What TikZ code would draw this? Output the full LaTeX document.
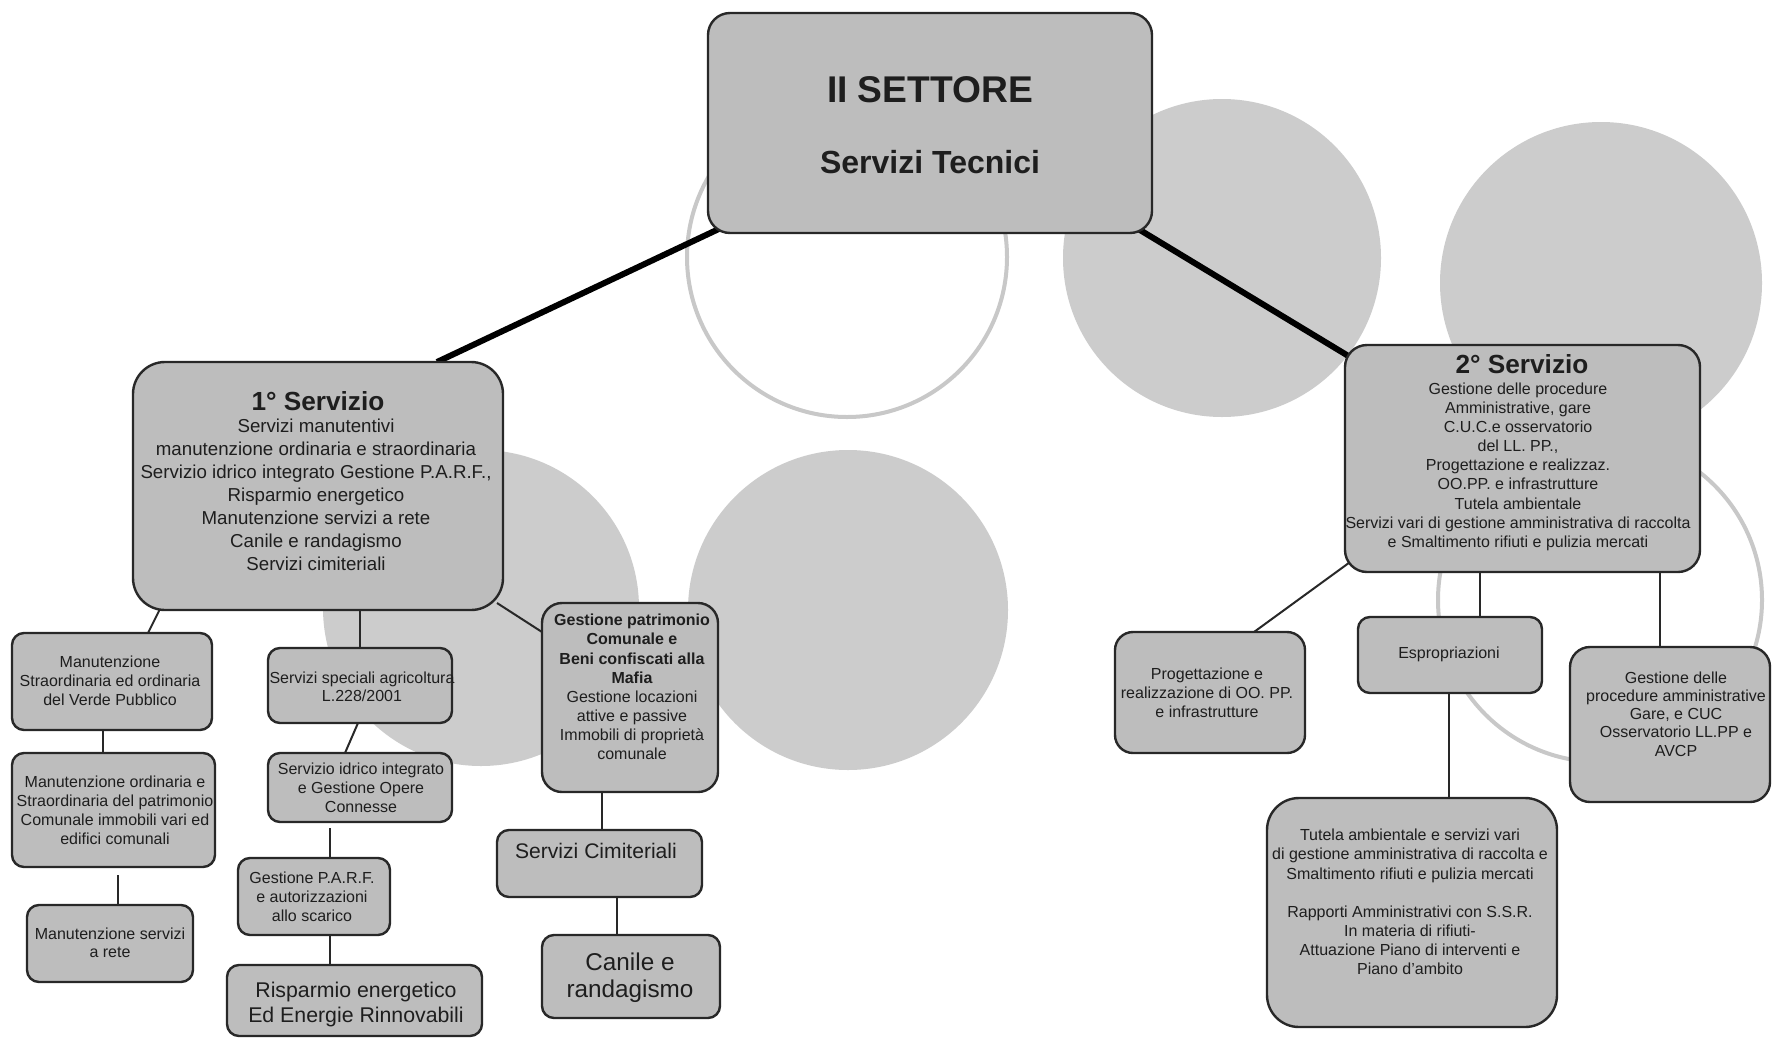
\documentclass[tikz,border=0pt]{standalone}
\usepackage{fontspec}
\setmainfont{Liberation Sans}
\usetikzlibrary{fit,calc}
\definecolor{boxfill}{RGB}{189,189,189}
\definecolor{circfill}{RGB}{204,204,204}
\definecolor{circline}{RGB}{200,200,200}
\definecolor{ink}{RGB}{30,30,30}
\definecolor{edge}{RGB}{40,40,40}
\newcommand\fsz[2]{\fontsize{#1}{#2}\selectfont}
\pgfdeclarelayer{circ}
\pgfdeclarelayer{lines}
\pgfsetlayers{circ,lines,main}
\begin{document}
\begin{tikzpicture}[x=0.5pt,y=-0.5pt,
  box/.style={draw=edge, line width=1.2pt, fill=boxfill, inner sep=0pt, outer sep=0pt, rounded corners=#1},
  box/.default=6pt,
  txt/.style={text=ink, align=center, inner sep=0pt},
  link/.style={draw=edge, line width=1pt},
  trunk/.style={draw=black, line width=3pt},
  disc/.style={fill=circfill, draw=none},
  ring/.style={draw=circline, line width=2pt}]
\useasboundingbox (0,0) rectangle (1772,1039);
\begin{pgfonlayer}{circ}
\fill[white] (0,0) rectangle (1772,1039);
\fill[disc] (1222,258) circle[radius=159];
\fill[disc] (1601,283) circle[radius=161];
\fill[disc] (481,608) circle[radius=158];
\fill[disc] (848,610) circle[radius=160];
\draw[ring] (847,257) circle[radius=160];
\draw[ring] (1600,600) circle[radius=162];
\end{pgfonlayer}

% boxes
\node[box=11pt, fit={(708,13) (1152,233)}] (top) {};
\node[box=16pt, fit={(133,362) (503,610)}] (s1) {};
\node[box=6pt, fit={(12,633) (212,730)}] (v1) {};
\node[box=6pt, fit={(12,753) (215,867)}] (v2) {};
\node[box=6pt, fit={(27,905) (193,982)}] (v3) {};
\node[box=6pt, fit={(268,648) (452,723)}] (a1) {};
\node[box=6pt, fit={(268,753) (452,822)}] (a2) {};
\node[box=6pt, fit={(238,858) (390,935)}] (a3) {};
\node[box=6pt, fit={(227,965) (482,1036)}] (a4) {};
\node[box=10pt, fit={(542,603) (718,792)}] (g1) {};
\node[box=6pt, fit={(497,830) (702,897)}] (c1) {};
\node[box=6pt, fit={(542,935) (720,1018)}] (c2) {};
\node[box=11pt, fit={(1345,345) (1700,572)}] (s2) {};
\node[box=9pt, fit={(1115,632) (1305,753)}] (p1) {};
\node[box=6pt, fit={(1358,617) (1542,693)}] (e1) {};
\node[box=10pt, fit={(1570,647) (1770,802)}] (g2) {};
\node[box=16pt, fit={(1267,798) (1557,1027)}] (t1) {};

% connectors
\begin{pgfonlayer}{lines}
\draw[trunk] ($(top.south west)+(15,-6)$) -- ($(s1.north west)+(304,0)$);
\draw[trunk] ($(top.south east)+(-17,-6)$) -- ($(s2.north west)+(10,15)$);
\draw[link] ($(s1.south west)+(30,-7)$) -- ($(v1.north west)+(136,0)$);
\draw[link] (a1.north) -- (a1.north |- s1.south);
\draw[link] ($(s1.south east)+(-6,-7)$) -- ($(g1.north west)+(0,29)$);
\draw[link] ($(v1.south)+(-9,0)$) -- ($(v2.north)+(-10.5,0)$);
\draw[link] ($(v2.south)+(4.5,8)$) -- ($(v3.north)+(8,0)$);
\draw[link] ($(a1.south)+(-2,0)$) -- ($(a2.north)+(-15,0)$);
\draw[link] ($(a2.south)+(-30,6)$) -- ($(a3.north)+(16,0)$);
\draw[link] ($(a3.south)+(16,0)$) -- ($(a4.north)+(-24.5,0)$);
\draw[link] ($(g1.south)+(-28,0)$) -- ($(c1.north)+(2.5,0)$);
\draw[link] ($(c1.south)+(17.5,0)$) -- ($(c2.north)+(-14,0)$);
\draw[link] ($(s2.south west)+(12,-15)$) -- ($(p1.north west)+(139,0)$);
\draw[link] ($(e1.north)+(30,0)$) -- ($(e1.north |- s2.south)+(30,0)$);
\draw[link] ($(g2.north)+(-10,0)$) -- ($(g2.north |- s2.south)+(-10,0)$);
\draw[link] ($(e1.south)+(-1,0)$) -- ($(t1.north)+(37,0)$);
\end{pgfonlayer}

% texts
\node[txt, font=\bfseries\fsz{18.6pt}{22pt}, anchor=base] (topa) at (930,102) {II SETTORE};
\node[txt, font=\bfseries\fsz{16pt}{19pt}, anchor=base] (topb) at (930,173) {Servizi Tecnici};
\node[txt, font=\bfseries\fsz{13.1pt}{15pt}, anchor=base] (s1h) at (318,410) {1° Servizio};
\node[txt, font=\fsz{9.35pt}{11.5pt}] (s1b) at (316,495) {Servizi manutentivi\\ manutenzione ordinaria e straordinaria\\ Servizio idrico integrato Gestione P.A.R.F.,\\ Risparmio energetico\\ Manutenzione servizi a rete\\ Canile e randagismo\\ Servizi cimiteriali};
\node[txt, font=\fsz{8pt}{9.5pt}] (v1t) at (110,681) {Manutenzione\\ Straordinaria ed ordinaria\\ del Verde Pubblico};
\node[txt, font=\fsz{8pt}{9.5pt}] (v2t) at (115,810) {Manutenzione ordinaria e\\ Straordinaria del patrimonio\\ Comunale immobili vari ed\\ edifici comunali};
\node[txt, font=\fsz{8pt}{9.2pt}] (v3t) at (110,942.5) {Manutenzione servizi\\ a rete};
\node[txt, font=\fsz{8pt}{9.2pt}] (a1t) at (362,686.5) {Servizi speciali agricoltura\\ L.228/2001};
\node[txt, font=\fsz{8pt}{9.6pt}] (a2t) at (361,787.5) {Servizio idrico integrato\\ e Gestione Opere\\ Connesse};
\node[txt, font=\fsz{8pt}{9.4pt}] (a3t) at (312,897) {Gestione P.A.R.F.\\ e autorizzazioni\\ allo scarico};
\node[txt, font=\fsz{10.65pt}{12.5pt}] (a4t) at (356,1004) {Risparmio energetico\\ Ed Energie Rinnovabili};
\node[txt, font=\fsz{8pt}{9.55pt}] (g1t) at (632,687) {\textbf{Gestione patrimonio}\\ \textbf{Comunale e}\\ \textbf{Beni confiscati alla}\\ \textbf{Mafia}\\ Gestione locazioni\\ attive e passive\\ Immobili di proprietà\\ comunale};
\node[txt, font=\fsz{10.55pt}{12.5pt}, anchor=base] (c1t) at (596,858) {Servizi Cimiteriali};
\node[txt, font=\fsz{12.15pt}{13.3pt}] (c2t) at (630,978) {Canile e\\ randagismo};
\node[txt, font=\bfseries\fsz{13.1pt}{15pt}, anchor=base] (s2h) at (1522,373) {2° Servizio};
\node[txt, font=\fsz{8pt}{9.55pt}] (s2b) at (1518,466.7) {Gestione delle procedure\\ Amministrative, gare\\ C.U.C.e osservatorio\\ del LL. PP.,\\ Progettazione e realizzaz.\\ OO.PP. e infrastrutture\\ Tutela ambientale\\ Servizi vari di gestione amministrativa di raccolta\\ e Smaltimento rifiuti e pulizia mercati};
\node[txt, font=\fsz{8pt}{9.6pt}] (p1t) at (1207,692.5) {Progettazione e\\ realizzazione di OO. PP.\\ e infrastrutture};
\node[txt, font=\fsz{8pt}{9.5pt}, anchor=base] (e1t) at (1449,658) {Espropriazioni};
\node[txt, font=\fsz{8pt}{9.1pt}] (g2t) at (1676,714) {Gestione delle\\ procedure amministrative\\ Gare, e CUC\\ Osservatorio LL.PP e\\ AVCP};
\node[txt, font=\fsz{8pt}{9.55pt}] (t1t) at (1410,902) {Tutela ambientale e servizi vari\\ di gestione amministrativa di raccolta e\\ Smaltimento rifiuti e pulizia mercati\\[9.55pt] Rapporti Amministrativi con S.S.R.\\ In materia di rifiuti-\\ Attuazione Piano di interventi e\\ Piano d'ambito};
\end{tikzpicture}
\end{document}
